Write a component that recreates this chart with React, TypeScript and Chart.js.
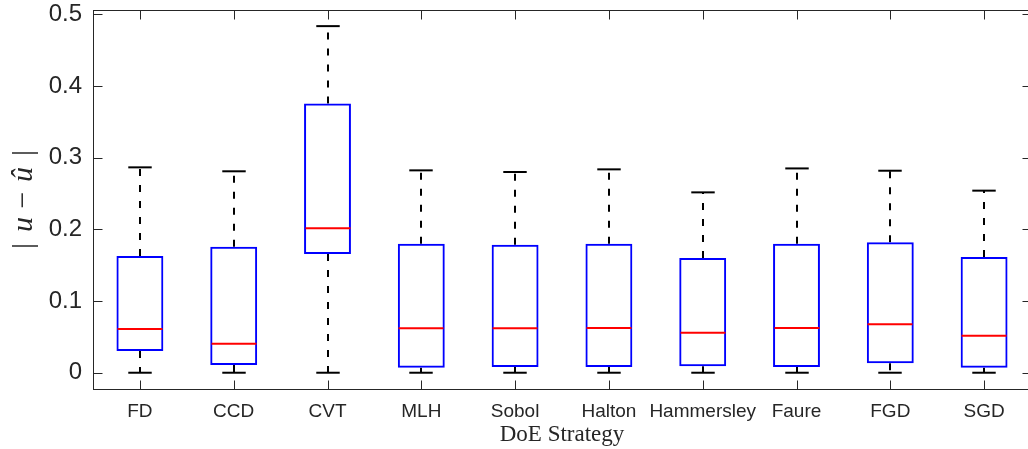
import React, { useEffect, useRef } from 'react';
import { Chart, registerables } from 'chart.js';

Chart.register(...registerables);

// Box-plot summary statistics of |u - û| per design-of-experiments strategy
const categories = ['FD', 'CCD', 'CVT', 'MLH', 'Sobol', 'Halton', 'Hammersley', 'Faure', 'FGD', 'SGD'];
const whiskerLow = [0, 0, 0, 0, 0, 0, 0, 0, 0, 0];
const q1 = [0.0303, 0.0107, 0.1655, 0.007, 0.008, 0.008, 0.0089, 0.008, 0.0131, 0.007];
const median = [0.0609, 0.0405, 0.2014, 0.0619, 0.062, 0.0623, 0.0558, 0.0623, 0.0675, 0.0516];
const q3 = [0.1628, 0.1758, 0.3757, 0.18, 0.1785, 0.18, 0.16, 0.18, 0.182, 0.1614];
const whiskerHigh = [0.2865, 0.281, 0.4835, 0.2823, 0.28, 0.2837, 0.2516, 0.285, 0.2818, 0.254];

const yTicks = [0, 0.1, 0.2, 0.3, 0.4, 0.5];
const yTickLabels = ['0', '0.1', '0.2', '0.3', '0.4', '0.5'];
const yMin = -0.0227;
const yMax = 0.506;

const xTitle = 'DoE Strategy';
// y-axis label pieces: [text, italic]
const yTitleParts: [string, boolean][] = [
  ['|', false],
  ['u', true],
  ['\u2212', false],
  ['\u00fb', true],
  ['|', false],
];

const AXIS = '#262626';
const BOX = '#0000ff';
const MEDIAN = '#ff0000';
const WHISKER = '#000000';
const TICK_LEN = 9;

function seg(ctx: CanvasRenderingContext2D, x1: number, y1: number, x2: number, y2: number) {
  ctx.beginPath();
  ctx.moveTo(x1, y1);
  ctx.lineTo(x2, y2);
  ctx.stroke();
}

const whiskerPlugin = {
  id: 'whiskers',
  beforeDatasetsDraw(chart: any) {
    const { ctx, scales } = chart;
    const { x, y } = scales;
    ctx.save();
    ctx.strokeStyle = WHISKER;
    ctx.lineWidth = 2;
    ctx.lineCap = 'butt';
    ctx.setLineDash([7, 9]);
    categories.forEach((_, i) => {
      const cx = Math.round(x.getPixelForValue(i));
      seg(ctx, cx, y.getPixelForValue(q3[i]), cx, y.getPixelForValue(whiskerHigh[i]));
      seg(ctx, cx, y.getPixelForValue(q1[i]), cx, y.getPixelForValue(whiskerLow[i]));
    });
    ctx.restore();
  },
  afterDatasetsDraw(chart: any) {
    const { ctx, scales } = chart;
    const { x, y } = scales;
    const unit = x.getPixelForValue(1) - x.getPixelForValue(0);
    ctx.save();
    ctx.lineCap = 'butt';
    ctx.lineWidth = 2;
    categories.forEach((_, i) => {
      const cx = Math.round(x.getPixelForValue(i));
      const capHalf = unit * 0.125;
      ctx.strokeStyle = WHISKER;
      const yh = y.getPixelForValue(whiskerHigh[i]);
      const yl = y.getPixelForValue(whiskerLow[i]);
      seg(ctx, cx - capHalf, yh, cx + capHalf, yh);
      seg(ctx, cx - capHalf, yl, cx + capHalf, yl);
      const boxHalf = unit * 0.25;
      const ym = y.getPixelForValue(median[i]);
      ctx.strokeStyle = MEDIAN;
      seg(ctx, cx - boxHalf + 1, ym, cx + boxHalf - 1, ym);
    });
    ctx.restore();
  },
};

const framePlugin = {
  id: 'frame',
  afterDraw(chart: any) {
    const { ctx, chartArea, scales } = chart;
    const { x, y } = scales;
    const L = Math.round(chartArea.left) + 0.5;
    const R = Math.round(chartArea.right) + 0.5;
    const T = Math.round(chartArea.top) + 0.5;
    const B = Math.round(chartArea.bottom) + 0.5;
    ctx.save();
    ctx.strokeStyle = AXIS;
    ctx.lineWidth = 1;
    ctx.strokeRect(L, T, R - L, B - T);
    yTicks.forEach((v) => {
      const py = Math.round(y.getPixelForValue(v)) + 0.5;
      seg(ctx, L, py, L + TICK_LEN, py);
      seg(ctx, R - TICK_LEN, py, R, py);
    });
    categories.forEach((_, i) => {
      const px = Math.round(x.getPixelForValue(i)) + 0.5;
      seg(ctx, px, B, px, B - TICK_LEN);
      seg(ctx, px, T, px, T + TICK_LEN);
    });

    // rotated y-axis label with italic variables
    const cy = (chartArea.top + chartArea.bottom) / 2;
    const offsets = [-46.5, -25, -0.5, 25, 46.5];
    ctx.translate(32, cy);
    ctx.rotate(-Math.PI / 2);
    ctx.fillStyle = AXIS;
    ctx.textAlign = 'center';
    ctx.textBaseline = 'alphabetic';
    yTitleParts.forEach(([txt, italic], k) => {
      ctx.font = `${italic ? 'italic ' : ''}30px "Liberation Serif"`;
      ctx.fillText(txt, offsets[k], 0);
    });
    ctx.restore();
  },
};

export default function App() {
  const canvasRef = useRef<HTMLCanvasElement | null>(null);

  useEffect(() => {
    const canvas = canvasRef.current;
    if (!canvas) return;
    const chart = new Chart(canvas, {
      type: 'bar',
      data: {
        labels: categories,
        datasets: [
          {
            data: categories.map((_, i) => [q1[i], q3[i]]) as any,
            backgroundColor: 'rgba(0,0,0,0)',
            borderColor: BOX,
            borderWidth: 2,
            borderSkipped: false,
            barPercentage: 0.5,
            categoryPercentage: 1,
          },
        ],
      },
      options: {
        responsive: false,
        animation: false,
        devicePixelRatio: 1,
        layout: { padding: { left: 0, right: 9, top: 10, bottom: 0 } },
        plugins: {
          legend: { display: false },
          tooltip: { enabled: false },
        },
        scales: {
          x: {
            type: 'category',
            offset: true,
            grid: { display: false, drawTicks: false },
            border: { display: false },
            ticks: {
              color: AXIS,
              font: { family: 'Liberation Sans', size: 19 },
              padding: 11,
              maxRotation: 0,
              autoSkip: false,
            },
            title: {
              display: true,
              text: xTitle,
              color: AXIS,
              font: { family: 'Liberation Serif', size: 23 },
              padding: { top: 0, bottom: 0 },
            },
            afterFit: (s: any) => {
              s.height = 60;
              s.paddingLeft = 0;
              s.paddingRight = 0;
            },
          },
          y: {
            type: 'linear',
            min: yMin,
            max: yMax,
            grid: { display: false, drawTicks: false },
            border: { display: false },
            ticks: {
              color: AXIS,
              font: { family: 'Liberation Sans', size: 24 },
              padding: 11,
              callback: (_v: any, idx: number) => yTickLabels[idx],
            },
            afterBuildTicks: (s: any) => {
              s.ticks = yTicks.map((v) => ({ value: v }));
            },
            afterFit: (s: any) => {
              s.width = 93;
              s.paddingTop = 0;
              s.paddingBottom = 0;
            },
          },
        },
      },
      plugins: [whiskerPlugin, framePlugin],
    });
    return () => chart.destroy();
  }, []);

  return (
    <div
      style={{
        position: 'fixed',
        left: 0,
        top: 0,
        width: 1028,
        height: 449,
        overflow: 'hidden',
        background: '#ffffff',
      }}
    >
      <canvas
        ref={canvasRef}
        width={1040}
        height={449}
        style={{ display: 'block', width: 1040, height: 449 }}
      />
    </div>
  );
}
